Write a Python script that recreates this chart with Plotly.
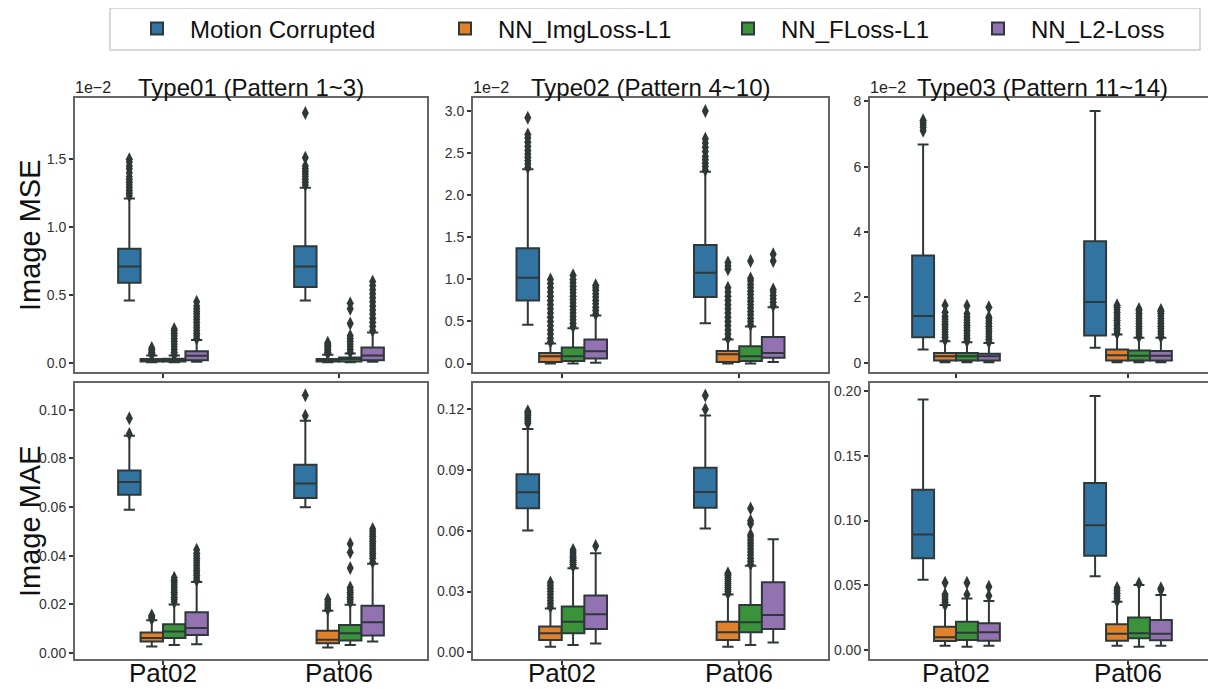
import plotly.graph_objects as go

# ---------------- data ----------------
CATS = ["Pat02", "Pat06"]
SERIES = ["Motion Corrupted", "NN_ImgLoss-L1", "NN_FLoss-L1", "NN_L2-Loss"]
COLORS = ["#3274a1", "#e1812c", "#3a923a", "#9372b2"]

# stats per category: [lower whisker, q1, median, q3, upper whisker]
# ---- Image MSE, Type01 (units of 1e-2)
MSE1_MOTION = [[0.46, 0.59, 0.71, 0.84, 1.21], [0.46, 0.56, 0.71, 0.86, 1.29]]
MSE1_IMG = [[0.005, 0.012, 0.02, 0.03, 0.055], [0.005, 0.012, 0.02, 0.03, 0.06]]
MSE1_FL = [[0.005, 0.012, 0.02, 0.032, 0.055], [0.005, 0.012, 0.03, 0.04, 0.07]]
MSE1_L2 = [[0.01, 0.02, 0.054, 0.086, 0.17], [0.01, 0.02, 0.056, 0.115, 0.225]]
MSE1_MOTION_OUT = [[1.23, 1.25, 1.27, 1.29, 1.31, 1.33, 1.35, 1.37, 1.40, 1.43, 1.45, 1.48, 1.50],
                   [1.31, 1.33, 1.35, 1.37, 1.39, 1.41, 1.43, 1.45, 1.51, 1.84]]
MSE1_IMG_OUT = [[0.06, 0.07, 0.08, 0.09, 0.10, 0.11],
                [0.07, 0.08, 0.09, 0.10, 0.11, 0.12, 0.13, 0.14, 0.15]]
MSE1_FL_OUT = [[0.06, 0.08, 0.10, 0.12, 0.14, 0.16, 0.18, 0.20, 0.22, 0.24, 0.25],
               [0.08, 0.10, 0.12, 0.14, 0.16, 0.18, 0.20, 0.29, 0.40, 0.44]]
MSE1_L2_OUT = [[0.18, 0.20, 0.22, 0.24, 0.26, 0.28, 0.30, 0.32, 0.34, 0.36, 0.38, 0.40, 0.42, 0.45],
               [0.24, 0.27, 0.30, 0.33, 0.36, 0.39, 0.42, 0.45, 0.48, 0.51, 0.54, 0.57, 0.60]]

# ---- Image MSE, Type02 (units of 1e-2)
MSE2_MOTION = [[0.46, 0.75, 1.02, 1.37, 2.31], [0.48, 0.79, 1.08, 1.41, 2.28]]
MSE2_IMG = [[0.0, 0.02, 0.087, 0.127, 0.24], [0.0, 0.02, 0.11, 0.15, 0.285]]
MSE2_FL = [[0.0, 0.03, 0.087, 0.19, 0.42], [0.0, 0.03, 0.087, 0.206, 0.44]]
MSE2_L2 = [[0.01, 0.06, 0.147, 0.285, 0.57], [0.02, 0.07, 0.127, 0.317, 0.67]]
MSE2_MOTION_OUT = [[2.33, 2.37, 2.41, 2.45, 2.49, 2.53, 2.58, 2.63, 2.68, 2.72, 2.92],
                   [2.30, 2.34, 2.38, 2.42, 2.46, 2.52, 2.57, 2.62, 2.67, 3.00]]
MSE2_IMG_OUT = [[0.26, 0.30, 0.35, 0.40, 0.45, 0.50, 0.55, 0.60, 0.65, 0.70, 0.75, 0.80, 0.85, 0.90, 0.95, 1.00],
                [0.30, 0.35, 0.40, 0.45, 0.50, 0.55, 0.60, 0.65, 0.70, 0.75, 0.80, 0.85, 0.90, 1.12, 1.16, 1.20]]
MSE2_FL_OUT = [[0.44, 0.48, 0.52, 0.56, 0.60, 0.64, 0.68, 0.72, 0.76, 0.80, 0.84, 0.88, 0.92, 0.96, 1.00, 1.05],
               [0.46, 0.50, 0.54, 0.58, 0.62, 0.66, 0.70, 0.74, 0.78, 0.82, 0.86, 0.90, 0.94, 0.98, 1.01, 1.22]]
MSE2_L2_OUT = [[0.59, 0.63, 0.67, 0.71, 0.75, 0.79, 0.83, 0.87, 0.90, 0.93],
               [0.69, 0.73, 0.77, 0.81, 0.85, 0.88, 1.22, 1.30]]

# ---- Image MSE, Type03 (units of 1e-2)
MSE3_MOTION = [[0.41, 0.78, 1.43, 3.28, 6.68], [0.46, 0.84, 1.86, 3.72, 7.70]]
MSE3_IMG = [[0.02, 0.07, 0.20, 0.30, 0.66], [0.02, 0.07, 0.23, 0.41, 0.87]]
MSE3_FL = [[0.02, 0.07, 0.20, 0.30, 0.63], [0.02, 0.07, 0.22, 0.38, 0.77]]
MSE3_L2 = [[0.02, 0.07, 0.20, 0.28, 0.61], [0.02, 0.07, 0.22, 0.36, 0.77]]
MSE3_MOTION_OUT = [[7.10, 7.20, 7.28, 7.35, 7.42], []]
MSE3_IMG_OUT = [[0.70, 0.78, 0.86, 0.94, 1.02, 1.10, 1.18, 1.26, 1.34, 1.42, 1.55, 1.76],
                [0.90, 0.98, 1.06, 1.14, 1.22, 1.30, 1.38, 1.46, 1.54, 1.62, 1.70, 1.76]]
MSE3_FL_OUT = [[0.67, 0.75, 0.83, 0.91, 0.99, 1.07, 1.15, 1.23, 1.31, 1.40, 1.50, 1.75],
               [0.80, 0.88, 0.96, 1.04, 1.12, 1.20, 1.28, 1.36, 1.44, 1.52, 1.60, 1.65]]
MSE3_L2_OUT = [[0.64, 0.72, 0.80, 0.88, 0.96, 1.04, 1.12, 1.20, 1.28, 1.36, 1.40, 1.70],
               [0.80, 0.88, 0.96, 1.04, 1.12, 1.20, 1.28, 1.36, 1.44, 1.52, 1.58, 1.62]]

# ---- Image MAE, Type01
MAE1_MOTION = [[0.0589, 0.0651, 0.0703, 0.0751, 0.0893], [0.0600, 0.0637, 0.0697, 0.0774, 0.0955]]
MAE1_IMG = [[0.0027, 0.0048, 0.0062, 0.0085, 0.0135], [0.0023, 0.0041, 0.0055, 0.0092, 0.0174]]
MAE1_FL = [[0.0034, 0.0062, 0.0089, 0.0119, 0.0200], [0.0034, 0.0052, 0.0082, 0.0116, 0.0199]]
MAE1_L2 = [[0.0037, 0.0075, 0.0103, 0.0168, 0.0292], [0.0048, 0.0073, 0.0127, 0.0195, 0.0367]]
MAE1_MOTION_OUT = [[0.0900, 0.0965], [0.0975, 0.1060]]
MAE1_IMG_OUT = [[0.0140, 0.0145, 0.0150, 0.0155], [0.0180, 0.0190, 0.0200, 0.0210, 0.0220]]
MAE1_FL_OUT = [[0.021, 0.022, 0.023, 0.024, 0.025, 0.026, 0.027, 0.028, 0.029, 0.030, 0.031],
               [0.021, 0.022, 0.023, 0.024, 0.025, 0.026, 0.027, 0.035, 0.0415, 0.045]]
MAE1_L2_OUT = [[0.030, 0.031, 0.032, 0.033, 0.034, 0.035, 0.036, 0.037, 0.038, 0.039, 0.040, 0.041, 0.0425],
               [0.0375, 0.039, 0.040, 0.041, 0.042, 0.043, 0.044, 0.045, 0.046, 0.047, 0.048, 0.049, 0.050, 0.051]]

# ---- Image MAE, Type02
MAE2_MOTION = [[0.0601, 0.0711, 0.0790, 0.0879, 0.1103], [0.0612, 0.0714, 0.0792, 0.0912, 0.1169]]
MAE2_IMG = [[0.0028, 0.0061, 0.0094, 0.0127, 0.0217], [0.0028, 0.0061, 0.0099, 0.0151, 0.0286]]
MAE2_FL = [[0.0036, 0.0094, 0.0151, 0.0226, 0.0415], [0.0036, 0.0099, 0.0148, 0.0234, 0.0428]]
MAE2_L2 = [[0.0044, 0.0115, 0.0188, 0.0280, 0.0489], [0.0048, 0.0115, 0.0184, 0.0346, 0.0558]]
MAE2_MOTION_OUT = [[0.113, 0.114, 0.115, 0.116, 0.117, 0.118, 0.119], [0.120, 0.1268]]
MAE2_IMG_OUT = [[0.0225, 0.024, 0.0255, 0.027, 0.0285, 0.030, 0.0315, 0.033, 0.0345],
                [0.029, 0.030, 0.031, 0.032, 0.033, 0.034, 0.035, 0.036, 0.037, 0.038, 0.039]]
MAE2_FL_OUT = [[0.0425, 0.0435, 0.0445, 0.0455, 0.0465, 0.0475, 0.0485, 0.0495, 0.0505],
               [0.0435, 0.045, 0.0465, 0.048, 0.0495, 0.051, 0.0525, 0.054, 0.0555, 0.057, 0.058, 0.0635, 0.065, 0.071]]
MAE2_L2_OUT = [[0.0525], []]

# ---- Image MAE, Type03
MAE3_MOTION = [[0.0544, 0.0709, 0.0893, 0.1237, 0.1933], [0.0570, 0.0729, 0.0963, 0.1289, 0.1959]]
MAE3_IMG = [[0.0036, 0.0072, 0.0100, 0.0182, 0.0349], [0.0036, 0.0074, 0.0128, 0.0200, 0.0375]]
MAE3_FL = [[0.0028, 0.0080, 0.0136, 0.0221, 0.0400], [0.0028, 0.0092, 0.0131, 0.0252, 0.0503]]
MAE3_L2 = [[0.0036, 0.0074, 0.0139, 0.0208, 0.0380], [0.0036, 0.0077, 0.0128, 0.0234, 0.0426]]
MAE3_MOTION_OUT = [[], []]
MAE3_IMG_OUT = [[0.035, 0.037, 0.039, 0.041, 0.043, 0.052], [0.038, 0.040, 0.042, 0.044, 0.046, 0.048]]
MAE3_FL_OUT = [[0.043, 0.052], [0.0515]]
MAE3_L2_OUT = [[0.042, 0.049], [0.0465, 0.0478]]

PANEL_TITLES = ["Type01 (Pattern 1~3)", "Type02 (Pattern 4~10)", "Type03 (Pattern 11~14)"]
ROW_TITLES = ["Image MSE", "Image MAE"]

PANELS = [
    ([MSE1_MOTION, MSE1_IMG, MSE1_FL, MSE1_L2], [MSE1_MOTION_OUT, MSE1_IMG_OUT, MSE1_FL_OUT, MSE1_L2_OUT]),
    ([MSE2_MOTION, MSE2_IMG, MSE2_FL, MSE2_L2], [MSE2_MOTION_OUT, MSE2_IMG_OUT, MSE2_FL_OUT, MSE2_L2_OUT]),
    ([MSE3_MOTION, MSE3_IMG, MSE3_FL, MSE3_L2], [MSE3_MOTION_OUT, MSE3_IMG_OUT, MSE3_FL_OUT, MSE3_L2_OUT]),
    ([MAE1_MOTION, MAE1_IMG, MAE1_FL, MAE1_L2], [MAE1_MOTION_OUT, MAE1_IMG_OUT, MAE1_FL_OUT, MAE1_L2_OUT]),
    ([MAE2_MOTION, MAE2_IMG, MAE2_FL, MAE2_L2], [MAE2_MOTION_OUT, MAE2_IMG_OUT, MAE2_FL_OUT, MAE2_L2_OUT]),
    ([MAE3_MOTION, MAE3_IMG, MAE3_FL, MAE3_L2], [MAE3_MOTION_OUT, MAE3_IMG_OUT, MAE3_FL_OUT, MAE3_L2_OUT]),
]

# ---------------- layout helpers ----------------
OFF = 8                       # page body margin in the browser
W, H = 1216 - OFF, 689 - OFF  # figure size so that it fills the window
LINE = "#2f3838"
FRAME = "#666666"
FONT = "Liberation Sans, Arial, sans-serif"


def px(x):
    return (x - OFF) / W


def py(y):
    return 1 - (y - OFF) / H


# page-pixel layout
X_PX = [(75, 427), (473, 828), (870, 1214)]
Y_PX = [(98, 372), (383, 659)]
LEGEND_X = [122, 430, 713, 963]
Y_RANGES = [[-0.066, 1.95], [-0.10, 3.155], [-0.28, 8.1],
            [-0.0024, 0.111], [-0.0033, 0.133], [-0.0067, 0.206]]
Y_DTICK = [0.5, 0.5, 2, 0.02, 0.03, 0.05]
Y_FMT = [".1f", ".1f", "d", ".2f", ".2f", ".2f"]
LEGEND_IDS = ["legend", "legend2", "legend3", "legend4"]

fig = go.Figure()

for p, (stats_list, out_list) in enumerate(PANELS):
    ax = "" if p == 0 else str(p + 1)
    for s, (name, color) in enumerate(zip(SERIES, COLORS)):
        st = stats_list[s]
        pts = out_list[s]
        has_pts = any(len(v) for v in pts)
        fig.add_trace(go.Box(
            x=CATS,
            lowerfence=[c[0] for c in st],
            q1=[c[1] for c in st],
            median=[c[2] for c in st],
            q3=[c[3] for c in st],
            upperfence=[c[4] for c in st],
            y=pts if has_pts else None,
            boxpoints="all" if has_pts else False, jitter=0, pointpos=0,
            name=name, legendgroup=name, showlegend=(p == 0),
            legend=LEGEND_IDS[s],
            offsetgroup=str(s),
            fillcolor=color,
            line=dict(color=LINE, width=2),
            whiskerwidth=0.5,
            marker=dict(symbol="diamond-tall", size=10, color=LINE, line=dict(width=0)),
            xaxis="x" + ax, yaxis="y" + ax,
            hoverinfo="skip",
        ))

layout = dict(
    width=W, height=H,
    margin=dict(l=0, r=0, t=0, b=0, autoexpand=False),
    paper_bgcolor="white", plot_bgcolor="white",
    boxmode="group", boxgap=0.49, boxgroupgap=0,
    font=dict(family=FONT, color="#222"),
    annotations=[],
    shapes=[dict(type="rect", xref="paper", yref="paper",
                 x0=px(110), x1=px(1200), y0=py(50), y1=py(8),
                 line=dict(color="#cccccc", width=1.5), fillcolor="rgba(0,0,0,0)", layer="below")],
)

for s, lid in enumerate(LEGEND_IDS):
    layout[lid] = dict(
        orientation="h", x=px(LEGEND_X[s] + 2), xanchor="left", y=py(29), yanchor="middle",
        borderwidth=0, bgcolor="rgba(0,0,0,0)", font=dict(size=24, color="#111"),
        itemwidth=56)

for p in range(6):
    r, c = divmod(p, 3)
    ax = "" if p == 0 else str(p + 1)
    x0, x1 = X_PX[c]
    y0, y1 = Y_PX[r]
    layout["xaxis" + ax] = dict(
        domain=[px(x0), px(x1)], anchor="y" + ax,
        type="category", range=[-0.5, 1.5],
        showline=True, mirror=True, linecolor=FRAME, linewidth=2,
        ticks="outside", ticklen=4, tickcolor=LINE, tickwidth=1.5,
        showgrid=False, zeroline=False,
        showticklabels=False,
    )
    layout["yaxis" + ax] = dict(
        domain=[py(y1), py(y0)], anchor="x" + ax,
        range=Y_RANGES[p], dtick=Y_DTICK[p], tick0=0, tickformat=Y_FMT[p],
        showline=True, mirror=True, linecolor=FRAME, linewidth=2,
        ticks="outside", ticklen=4, tickcolor=LINE, tickwidth=1.5,
        showgrid=False, zeroline=False,
        tickfont=dict(size=14, color="#333"),
    )
    if r == 0:
        layout["annotations"].append(dict(
            text=PANEL_TITLES[c], x=px((x0 + x1) / 2), y=py(87),
            xref="paper", yref="paper", xanchor="center", yanchor="middle",
            showarrow=False, font=dict(size=24, color="#111")))
        layout["annotations"].append(dict(
            text="1e\u22122", x=px(x0), y=py(87), xshift=-2,
            xref="paper", yref="paper", xanchor="left", yanchor="middle",
            showarrow=False, font=dict(size=16, color="#222")))
    else:
        for cat in CATS:
            layout["annotations"].append(dict(
                text=cat, x=cat, xref="x" + ax, y=py(673), yref="paper",
                xanchor="center", yanchor="middle",
                showarrow=False, font=dict(size=26, color="#111")))

for r in range(2):
    y0, y1 = Y_PX[r]
    layout["annotations"].append(dict(
        text=ROW_TITLES[r], x=px(30), y=py((y0 + y1) / 2),
        xref="paper", yref="paper", xanchor="center", yanchor="middle",
        textangle=-90, showarrow=False, font=dict(size=29, color="#111")))

fig.update_layout(**layout)
fig.write_html("out.html")
